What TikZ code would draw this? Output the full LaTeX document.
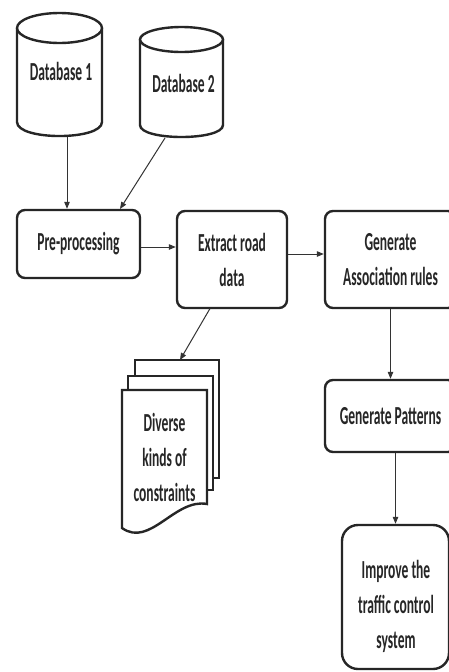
\documentclass[tikz,border=0pt]{standalone}
\usepackage{fontspec}
\setmainfont{Carlito}[FakeStretch=0.52]
\usetikzlibrary{arrows.meta}
\begin{document}
\begin{tikzpicture}[x=1pt,y=-1pt,
  box/.style={draw=black!85, line width=2.4pt, rounded corners=8pt, fill=white, align=center, inner sep=0pt, font=\fontsize{26}{35}\selectfont\bfseries, text=black!85},
  txt/.style={font=\fontsize{26}{35}\selectfont\bfseries, text=black!85, align=center, inner sep=0pt},
  shp/.style={draw=black!85, line width=2.4pt, fill=white},
  conn/.style={draw=black!80, line width=1pt, -{Triangle[length=7pt,width=5.5pt]}},
]
\useasboundingbox[fill=white] (0,0) rectangle (449,672);

% Database 1
\filldraw[shp] (17,28) -- (17,122) .. controls (17,140.7) and (102,140.7) .. (102,122) -- (102,28);
\filldraw[shp] (59.5,28) ellipse [x radius=42.5pt, y radius=15pt];
\node[txt] (db1) at (61,71) {Database 1};
\coordinate (db1out) at (67,137);

% Database 2
\filldraw[shp] (140,39.5) -- (140,125) .. controls (140,141) and (223,141) .. (223,125) -- (223,39.5);
\filldraw[shp] (181.5,39.5) ellipse [x radius=41.5pt, y radius=12.5pt];
\node[txt] (db2) at (183.5,83) {Database 2};
\coordinate (db2out) at (165,138);
\coordinate (prein2) at (120,209);

% boxes
\node[box, minimum width=123pt, minimum height=68pt] (pre) at (78.5,244) {Pre-processing};
\node[box, minimum width=110pt, minimum height=97pt] (ext) at (232,259.5) {Extract road\\data};
\node[box, minimum width=131pt, minimum height=97pt] (gen) at (390.5,259.5) {Generate\\Association rules};
\node[box, minimum width=131pt, minimum height=72pt] (pat) at (390.5,416) {Generate Patterns};
\node[box, rounded corners=16pt, minimum width=107pt, minimum height=144pt] (imp) at (395.5,597) {};
\node[txt] (imptxt) at (396,606) {Improve the\\traffic control\\system};

% document stack
\filldraw[shp] (135,360) rectangle (219,478);
\filldraw[shp] (128,376) rectangle (213,490);
\filldraw[shp] (122,390) -- (207,390) -- (207,504) .. controls (175,498) and (150,548) .. (122,528) -- cycle;
\node[txt] (doc) at (164.5,457) {Diverse\\kinds of\\constraints};
\coordinate (docin) at (180,360);
\coordinate (extout) at (210,308.5);

% connectors
\draw[conn] (db1out) -- (db1out |- pre.north);
\draw[conn] (db2out) -- (prein2);
\draw[conn] ([yshift=-3pt]pre.east) -- ([yshift=-3pt]pre.east -| ext.west);
\draw[conn] ([yshift=5.5pt]ext.east) -- ([yshift=5.5pt]ext.east -| gen.west);
\draw[conn] (extout) -- (docin);
\draw[conn] (gen.south) -- (pat.north);
\draw[conn] (imp.north |- pat.south) -- (imp.north);
\end{tikzpicture}
\end{document}
